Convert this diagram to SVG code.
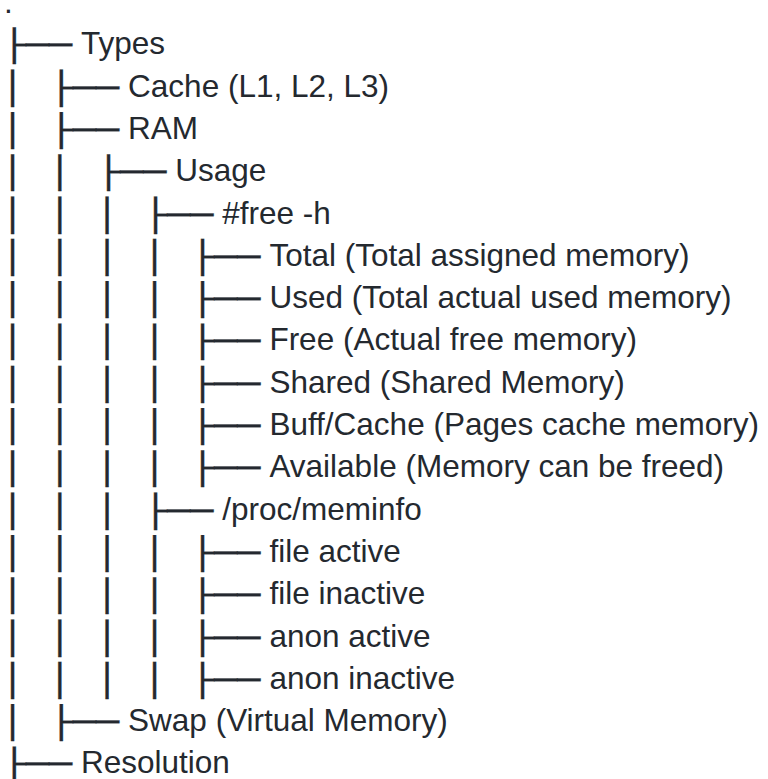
<svg xmlns="http://www.w3.org/2000/svg" width="768" height="779" viewBox="0 0 768 779">
<style>
.t{font-family:"Liberation Sans",Arial,sans-serif;font-size:31.5px;fill:#24292f}
.c{font-family:"DejaVu Sans Mono",monospace;font-size:32px;fill:#24292f;stroke:#24292f;stroke-width:0.3px}
</style>
<defs>
<clipPath id="rows">
<rect x="0" y="25.3" width="768" height="39"/>
<rect x="0" y="67.6" width="768" height="39"/>
<rect x="0" y="109.9" width="768" height="39"/>
<rect x="0" y="152.2" width="768" height="39"/>
<rect x="0" y="194.5" width="768" height="39"/>
<rect x="0" y="236.8" width="768" height="39"/>
<rect x="0" y="279.1" width="768" height="39"/>
<rect x="0" y="321.4" width="768" height="39"/>
<rect x="0" y="363.7" width="768" height="39"/>
<rect x="0" y="406" width="768" height="39"/>
<rect x="0" y="448.3" width="768" height="39"/>
<rect x="0" y="490.6" width="768" height="39"/>
<rect x="0" y="532.9" width="768" height="39"/>
<rect x="0" y="575.2" width="768" height="39"/>
<rect x="0" y="617.5" width="768" height="39"/>
<rect x="0" y="659.8" width="768" height="39"/>
<rect x="0" y="702.1" width="768" height="39"/>
<rect x="0" y="744.4" width="768" height="40"/>
</clipPath>
</defs>
<rect width="768" height="779" fill="#ffffff"/>
<g id="connectors" clip-path="url(#rows)" transform="translate(0,2)">
<text class="c" x="2.7" y="54.3" textLength="69" lengthAdjust="spacingAndGlyphs">├──</text>
<text class="c" x="1" y="96.6" textLength="23" lengthAdjust="spacingAndGlyphs">│</text>
<text class="c" x="49.8" y="96.6" textLength="69" lengthAdjust="spacingAndGlyphs">├──</text>
<text class="c" x="1" y="138.9" textLength="23" lengthAdjust="spacingAndGlyphs">│</text>
<text class="c" x="49.8" y="138.9" textLength="69" lengthAdjust="spacingAndGlyphs">├──</text>
<text class="c" x="1" y="181.2" textLength="23" lengthAdjust="spacingAndGlyphs">│</text>
<text class="c" x="48.3" y="181.2" textLength="23" lengthAdjust="spacingAndGlyphs">│</text>
<text class="c" x="96.9" y="181.2" textLength="69" lengthAdjust="spacingAndGlyphs">├──</text>
<text class="c" x="1" y="223.5" textLength="23" lengthAdjust="spacingAndGlyphs">│</text>
<text class="c" x="48.3" y="223.5" textLength="23" lengthAdjust="spacingAndGlyphs">│</text>
<text class="c" x="95.6" y="223.5" textLength="23" lengthAdjust="spacingAndGlyphs">│</text>
<text class="c" x="144" y="223.5" textLength="69" lengthAdjust="spacingAndGlyphs">├──</text>
<text class="c" x="1" y="265.8" textLength="23" lengthAdjust="spacingAndGlyphs">│</text>
<text class="c" x="48.3" y="265.8" textLength="23" lengthAdjust="spacingAndGlyphs">│</text>
<text class="c" x="95.6" y="265.8" textLength="23" lengthAdjust="spacingAndGlyphs">│</text>
<text class="c" x="142.9" y="265.8" textLength="23" lengthAdjust="spacingAndGlyphs">│</text>
<text class="c" x="191.1" y="265.8" textLength="69" lengthAdjust="spacingAndGlyphs">├──</text>
<text class="c" x="1" y="308.1" textLength="23" lengthAdjust="spacingAndGlyphs">│</text>
<text class="c" x="48.3" y="308.1" textLength="23" lengthAdjust="spacingAndGlyphs">│</text>
<text class="c" x="95.6" y="308.1" textLength="23" lengthAdjust="spacingAndGlyphs">│</text>
<text class="c" x="142.9" y="308.1" textLength="23" lengthAdjust="spacingAndGlyphs">│</text>
<text class="c" x="191.1" y="308.1" textLength="69" lengthAdjust="spacingAndGlyphs">├──</text>
<text class="c" x="1" y="350.4" textLength="23" lengthAdjust="spacingAndGlyphs">│</text>
<text class="c" x="48.3" y="350.4" textLength="23" lengthAdjust="spacingAndGlyphs">│</text>
<text class="c" x="95.6" y="350.4" textLength="23" lengthAdjust="spacingAndGlyphs">│</text>
<text class="c" x="142.9" y="350.4" textLength="23" lengthAdjust="spacingAndGlyphs">│</text>
<text class="c" x="191.1" y="350.4" textLength="69" lengthAdjust="spacingAndGlyphs">├──</text>
<text class="c" x="1" y="392.7" textLength="23" lengthAdjust="spacingAndGlyphs">│</text>
<text class="c" x="48.3" y="392.7" textLength="23" lengthAdjust="spacingAndGlyphs">│</text>
<text class="c" x="95.6" y="392.7" textLength="23" lengthAdjust="spacingAndGlyphs">│</text>
<text class="c" x="142.9" y="392.7" textLength="23" lengthAdjust="spacingAndGlyphs">│</text>
<text class="c" x="191.1" y="392.7" textLength="69" lengthAdjust="spacingAndGlyphs">├──</text>
<text class="c" x="1" y="435" textLength="23" lengthAdjust="spacingAndGlyphs">│</text>
<text class="c" x="48.3" y="435" textLength="23" lengthAdjust="spacingAndGlyphs">│</text>
<text class="c" x="95.6" y="435" textLength="23" lengthAdjust="spacingAndGlyphs">│</text>
<text class="c" x="142.9" y="435" textLength="23" lengthAdjust="spacingAndGlyphs">│</text>
<text class="c" x="191.1" y="435" textLength="69" lengthAdjust="spacingAndGlyphs">├──</text>
<text class="c" x="1" y="477.3" textLength="23" lengthAdjust="spacingAndGlyphs">│</text>
<text class="c" x="48.3" y="477.3" textLength="23" lengthAdjust="spacingAndGlyphs">│</text>
<text class="c" x="95.6" y="477.3" textLength="23" lengthAdjust="spacingAndGlyphs">│</text>
<text class="c" x="142.9" y="477.3" textLength="23" lengthAdjust="spacingAndGlyphs">│</text>
<text class="c" x="191.1" y="477.3" textLength="69" lengthAdjust="spacingAndGlyphs">├──</text>
<text class="c" x="1" y="519.6" textLength="23" lengthAdjust="spacingAndGlyphs">│</text>
<text class="c" x="48.3" y="519.6" textLength="23" lengthAdjust="spacingAndGlyphs">│</text>
<text class="c" x="95.6" y="519.6" textLength="23" lengthAdjust="spacingAndGlyphs">│</text>
<text class="c" x="144" y="519.6" textLength="69" lengthAdjust="spacingAndGlyphs">├──</text>
<text class="c" x="1" y="561.9" textLength="23" lengthAdjust="spacingAndGlyphs">│</text>
<text class="c" x="48.3" y="561.9" textLength="23" lengthAdjust="spacingAndGlyphs">│</text>
<text class="c" x="95.6" y="561.9" textLength="23" lengthAdjust="spacingAndGlyphs">│</text>
<text class="c" x="142.9" y="561.9" textLength="23" lengthAdjust="spacingAndGlyphs">│</text>
<text class="c" x="191.1" y="561.9" textLength="69" lengthAdjust="spacingAndGlyphs">├──</text>
<text class="c" x="1" y="604.2" textLength="23" lengthAdjust="spacingAndGlyphs">│</text>
<text class="c" x="48.3" y="604.2" textLength="23" lengthAdjust="spacingAndGlyphs">│</text>
<text class="c" x="95.6" y="604.2" textLength="23" lengthAdjust="spacingAndGlyphs">│</text>
<text class="c" x="142.9" y="604.2" textLength="23" lengthAdjust="spacingAndGlyphs">│</text>
<text class="c" x="191.1" y="604.2" textLength="69" lengthAdjust="spacingAndGlyphs">├──</text>
<text class="c" x="1" y="646.5" textLength="23" lengthAdjust="spacingAndGlyphs">│</text>
<text class="c" x="48.3" y="646.5" textLength="23" lengthAdjust="spacingAndGlyphs">│</text>
<text class="c" x="95.6" y="646.5" textLength="23" lengthAdjust="spacingAndGlyphs">│</text>
<text class="c" x="142.9" y="646.5" textLength="23" lengthAdjust="spacingAndGlyphs">│</text>
<text class="c" x="191.1" y="646.5" textLength="69" lengthAdjust="spacingAndGlyphs">├──</text>
<text class="c" x="1" y="688.8" textLength="23" lengthAdjust="spacingAndGlyphs">│</text>
<text class="c" x="48.3" y="688.8" textLength="23" lengthAdjust="spacingAndGlyphs">│</text>
<text class="c" x="95.6" y="688.8" textLength="23" lengthAdjust="spacingAndGlyphs">│</text>
<text class="c" x="142.9" y="688.8" textLength="23" lengthAdjust="spacingAndGlyphs">│</text>
<text class="c" x="191.1" y="688.8" textLength="69" lengthAdjust="spacingAndGlyphs">├──</text>
<text class="c" x="1" y="731.1" textLength="23" lengthAdjust="spacingAndGlyphs">│</text>
<text class="c" x="49.8" y="731.1" textLength="69" lengthAdjust="spacingAndGlyphs">├──</text>
<text class="c" x="2.7" y="773.4" textLength="69" lengthAdjust="spacingAndGlyphs">├──</text>
</g>
<g id="root"><text class="t" x="4" y="12.7">.</text></g>
<g id="node-types"><text class="t" x="81" y="54.3">Types</text></g>
<g id="node-cache"><text class="t" x="128.1" y="96.6">Cache (L1, L2, L3)</text></g>
<g id="node-ram"><text class="t" x="128.1" y="138.9">RAM</text></g>
<g id="node-usage"><text class="t" x="175.2" y="181.2">Usage</text></g>
<g id="node-free-h"><text class="t" x="222.3" y="223.5">#free -h</text></g>
<g id="node-total"><text class="t" x="269.4" y="265.8">Total (Total assigned memory)</text></g>
<g id="node-used"><text class="t" x="269.4" y="308.1">Used (Total actual used memory)</text></g>
<g id="node-free"><text class="t" x="269.4" y="350.4">Free (Actual free memory)</text></g>
<g id="node-shared"><text class="t" x="269.4" y="392.7">Shared (Shared Memory)</text></g>
<g id="node-buffcache"><text class="t" x="269.4" y="435">Buff/Cache (Pages cache memory)</text></g>
<g id="node-available"><text class="t" x="269.4" y="477.3">Available (Memory can be freed)</text></g>
<g id="node-meminfo"><text class="t" x="222.3" y="519.6">/proc/meminfo</text></g>
<g id="node-file-active"><text class="t" x="269.4" y="561.9">file active</text></g>
<g id="node-file-inactive"><text class="t" x="269.4" y="604.2">file inactive</text></g>
<g id="node-anon-active"><text class="t" x="269.4" y="646.5">anon active</text></g>
<g id="node-anon-inactive"><text class="t" x="269.4" y="688.8">anon inactive</text></g>
<g id="node-swap"><text class="t" x="128.1" y="731.1">Swap (Virtual Memory)</text></g>
<g id="node-resolution"><text class="t" x="81" y="773.4">Resolution</text></g>
</svg>
